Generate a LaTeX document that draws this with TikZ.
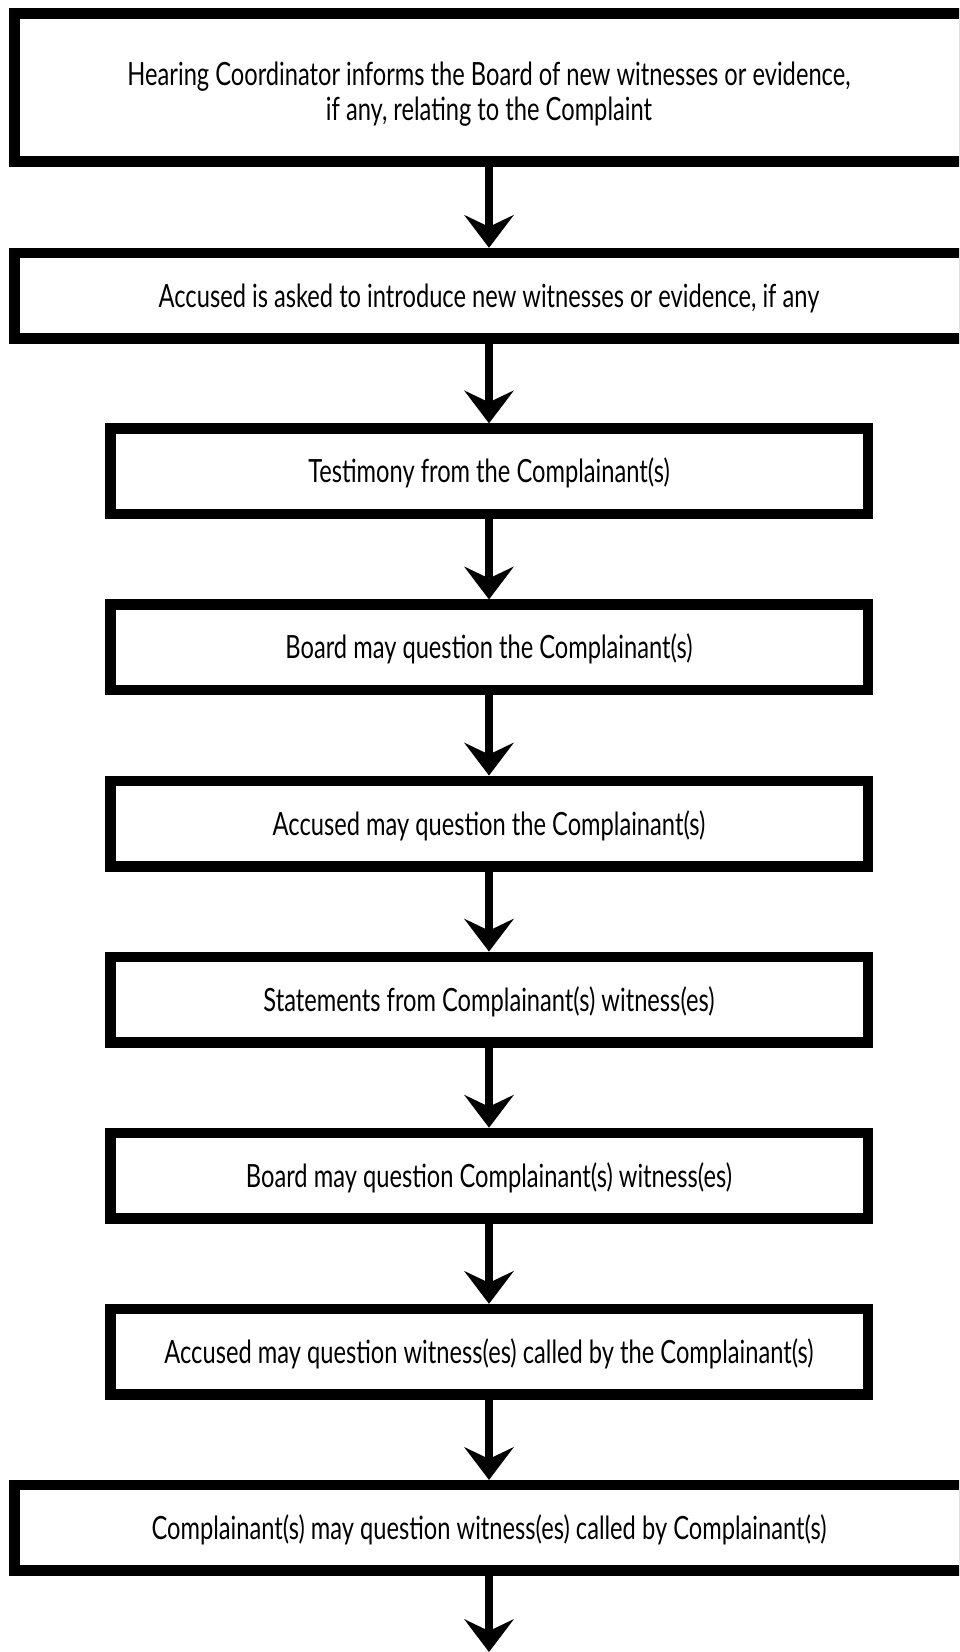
\documentclass[tikz,border=0pt]{standalone}
\usepackage{fontspec}
\setmainfont{Lato}[FakeStretch=0.74]
\usetikzlibrary{arrows.meta}
\begin{document}
\begin{tikzpicture}[x=1pt,y=-1pt,
  box/.style={draw=black, line width=10.5pt, fill=white, inner sep=0pt, minimum height=85.5pt, align=center, text height=23pt, text depth=0pt, font=\fontsize{32}{35}\selectfont},
  narrowbox/.style={box, minimum width=757.5pt},
  widebox/.style={box, minimum width=949.5pt},
  flow/.style={line width=8.3pt, -{Stealth[length=33pt,width=50pt,inset=12pt,line width=0pt]}}]
\useasboundingbox (0,0) rectangle (959,1652);
\clip (0,0) rectangle (959,1652);
\node[widebox, minimum height=148pt, text height=65pt, text depth=0pt] (b1) at (489,87.5) {Hearing Coordinator informs the Board of new witnesses or evidence,\\ if any, relating to the Complaint};
\node[widebox] (b2) at (489,295.8) {Accused is asked to introduce new witnesses or evidence, if any};
\node[narrowbox] (b3) at (489,471.3) {Testimony from the Complainant(s)};
\node[narrowbox] (b4) at (489,647.4) {Board may question the Complainant(s)};
\node[narrowbox] (b5) at (489,823.5) {Accused may question the Complainant(s)};
\node[narrowbox] (b6) at (489,999.6) {Statements from Complainant(s) witness(es)};
\node[narrowbox] (b7) at (489,1175.7) {Board may question Complainant(s) witness(es)};
\node[narrowbox] (b8) at (489,1351.8) {Accused may question witness(es) called by the Complainant(s)};
\node[widebox] (b9) at (489,1527.9) {Complainant(s) may question witness(es) called by Complainant(s)};
\coordinate (end) at (489,1652);
\foreach \a/\b in {b1/b2,b2/b3,b3/b4,b4/b5,b5/b6,b6/b7,b7/b8,b8/b9}
  \draw[flow] (\a.south) -- (\b.north);
\draw[flow] (b9.south) -- (end);
\end{tikzpicture}
\end{document}
